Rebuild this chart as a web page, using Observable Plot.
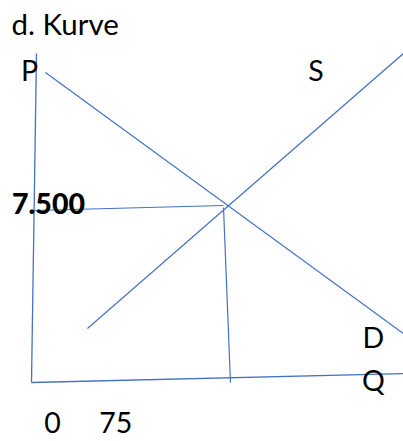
<!DOCTYPE html>
<html>
<head>
<meta charset="utf-8">
<script src="https://cdn.jsdelivr.net/npm/d3@7"></script>
<script src="https://cdn.jsdelivr.net/npm/@observablehq/plot@0.6"></script>
<style>
  html, body { margin: 0; padding: 0; background: #fff; }
</style>
</head>
<body>
<div id="chart"></div>
<script>
// Sketch coordinates: Q (quantity) and P (price)
// Axes (hand drawn, slightly tilted)
const axisNames = ["P-axis", "Q-axis"];
const axisQ0 = [0, 0];
const axisP0 = [0, 0];
const axisQ1 = [1.9, 141.6];
const axisP1 = [14020, 383];

// Demand and supply curves
const curveNames = ["D", "S"];
const curveQ0 = [5.3, 21.3];
const curveP0 = [13210, 2301];
const curveQ1 = [141.6, 141.6];
const curveP1 = [2088, 14020];

// Equilibrium guide lines
const guideNames = ["price", "quantity"];
const guideQ0 = [0.76, 73.1];
const guideP0 = [7330, 7457];
const guideQ1 = [73.1, 75.75];
const guideP1 = [7543, 0];

// Labels
const labelText = ["P", "S", "7.500", "D", "Q", "0", "75"];
const labelQ = [-4.0, 105.4, -7.4, 126.0, 125.8, 4.9, 25.8];
const labelP = [12869, 12869, 7159, 1491, -341, -2173, -2173];
const labelBold = [false, false, true, false, false, false, false];

const titleText = "d. Kurve";

const segs = (names, q0, p0, q1, p1) =>
  names.map((n, i) => ({name: n, q0: q0[i], p0: p0[i], q1: q1[i], p1: p1[i]}));

const axes = segs(axisNames, axisQ0, axisP0, axisQ1, axisP1);
const curves = segs(curveNames, curveQ0, curveP0, curveQ1, curveP1);
const guides = segs(guideNames, guideQ0, guideP0, guideQ1, guideP1);
const labels = labelText.map((t, i) => ({t, q: labelQ[i], p: labelP[i], bold: labelBold[i]}));

const blue = "#4472c4";
const font = "Lato, 'Open Sans', sans-serif";

const plot = Plot.plot({
  width: 403,
  height: 441,
  margin: 0,
  style: {background: "#fff", fontFamily: font},
  x: {domain: [-11.8, 141.62], axis: null},
  y: {domain: [-2514, 16278], axis: null},
  marks: [
    Plot.link(axes, {x1: "q0", y1: "p0", x2: "q1", y2: "p1", stroke: blue, strokeWidth: 1.3}),
    Plot.link(curves, {x1: "q0", y1: "p0", x2: "q1", y2: "p1", stroke: blue, strokeWidth: 1.2}),
    Plot.link(guides, {x1: "q0", y1: "p0", x2: "q1", y2: "p1", stroke: blue, strokeWidth: 1.2}),
    Plot.text(labels.filter(d => !d.bold), {x: "q", y: "p", text: "t", textAnchor: "start", lineAnchor: "bottom", fontSize: 28.5, fill: "#000"}),
    Plot.text(labels.filter(d => d.bold), {x: "q", y: "p", text: "t", textAnchor: "start", lineAnchor: "bottom", fontSize: 28.5, fontWeight: 900, fill: "#000"}),
    Plot.text([titleText], {frameAnchor: "top-left", dx: 11, dy: 34, text: d => d, textAnchor: "start", lineAnchor: "bottom", fontSize: 29.5, fill: "#000"})
  ]
});
document.getElementById("chart").appendChild(plot);
</script>
</body>
</html>
